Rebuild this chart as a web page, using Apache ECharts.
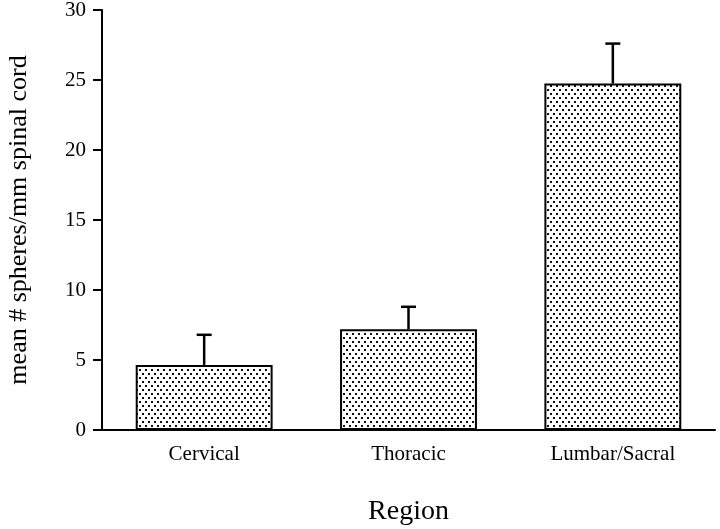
<!DOCTYPE html>
<html>
<head>
<meta charset="utf-8">
<script src="https://cdn.jsdelivr.net/npm/echarts@6/dist/echarts.min.js"></script>
<style>
  html, body { margin: 0; padding: 0; background: #fff; }
  #chart { width: 720px; height: 529px; }
</style>
</head>
<body>
<div id="chart"></div>
<script>
// data
const categories = ['Cervical', 'Thoracic', 'Lumbar/Sacral']
const means = [4.65, 7.2, 24.75]
const upperErr = [6.8, 8.8, 27.6]
const yTicks = [0, 5, 10, 15, 20, 25, 30]

// stipple pattern for the bars
const makeDots = () => {
    const c = document.createElement('canvas')
    c.width = 6
    c.height = 8
    const ctx = c.getContext('2d')
    ctx.fillStyle = '#fff'
    ctx.fillRect(0, 0, 6, 8)
    ctx.fillStyle = '#111'
    ctx.fillRect(1, 1, 2, 2)
    ctx.fillRect(4, 5, 2, 2)
    return c
}

const font = 'Liberation Serif, Times New Roman, serif'
const chart = echarts.init(document.getElementById('chart'))

const errData = categories.map((c, i) => [i, means[i], upperErr[i]])

chart.setOption({
    animation: false,
    grid: { left: 102, right: 5, top: 10, bottom: 99, outerBoundsMode: 'none' },
    xAxis: {
        type: 'category',
        data: categories,
        name: 'Region',
        nameLocation: 'middle',
        nameGap: 68,
        nameTextStyle: { fontFamily: font, fontSize: 28, color: '#000' },
        axisLine: { lineStyle: { color: '#000', width: 2 } },
        axisTick: { alignWithLabel: true, length: 10, lineStyle: { color: '#000', width: 2 } },
        axisLabel: { fontFamily: font, fontSize: 21, color: '#000', margin: 14 }
    },
    yAxis: {
        type: 'value',
        min: yTicks[0],
        max: yTicks[yTicks.length - 1],
        interval: 5,
        name: 'mean # spheres/mm spinal cord',
        nameLocation: 'middle',
        nameGap: 70,
        nameTextStyle: { fontFamily: font, fontSize: 26, color: '#000' },
        axisLine: { show: true, lineStyle: { color: '#000', width: 2 } },
        axisTick: { show: true, length: 9, lineStyle: { color: '#000', width: 2 } },
        axisLabel: { fontFamily: font, fontSize: 21, color: '#000', margin: 16 },
        splitLine: { show: false }
    },
    series: [
        {
            type: 'bar',
            data: means,
            barWidth: '67%',
            itemStyle: {
                color: { image: makeDots(), repeat: 'repeat' },
                borderColor: '#000',
                borderWidth: 2
            }
        },
        {
            type: 'custom',
            data: errData,
            z: 5,
            renderItem: (params, api) => {
                const base = api.coord([api.value(0), api.value(1)])
                const top = api.coord([api.value(0), api.value(2)])
                const half = 7.5
                const style = { stroke: '#000', lineWidth: 2.5 }
                return {
                    type: 'group',
                    children: [
                        { type: 'line', shape: { x1: base[0], y1: base[1], x2: top[0], y2: top[1] }, style },
                        { type: 'line', shape: { x1: top[0] - half, y1: top[1], x2: top[0] + half, y2: top[1] }, style }
                    ]
                }
            }
        }
    ]
})
</script>
</body>
</html>
